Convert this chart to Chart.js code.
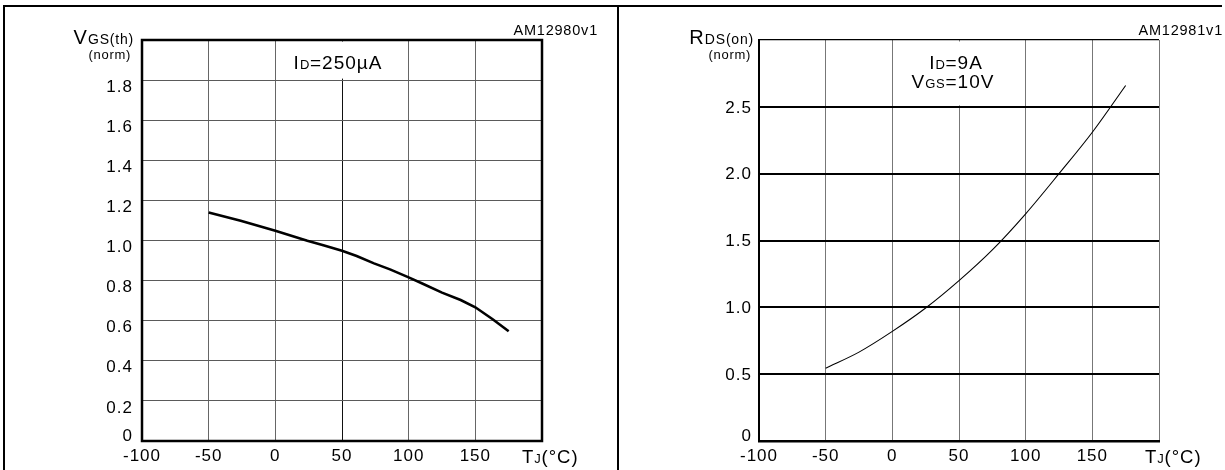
<!DOCTYPE html>
<html>
<head>
<meta charset="utf-8">
<script src="https://cdn.jsdelivr.net/npm/chart.js@4.4.1/dist/chart.umd.min.js"></script>
<style>
  html, body { margin: 0; padding: 0; background: #fff; }
  body { width: 1225px; height: 470px; position: relative; overflow: hidden; }
  .wrap { position: absolute; top: 0; height: 470px; }
  #vgsWrap { left: 0; width: 612px; }
  #rdsWrap { left: 612px; width: 613px; }
  .ln { position: absolute; background: #000; }
</style>
</head>
<body>
<div class="wrap" id="vgsWrap"><canvas id="vgsChart"></canvas></div>
<div class="wrap" id="rdsWrap"><canvas id="rdsChart"></canvas></div>
<div class="ln" style="left:3px;top:5px;width:1219px;height:2px"></div>
<div class="ln" style="left:3px;top:5px;width:2px;height:465px"></div>
<div class="ln" style="left:617px;top:5px;width:2px;height:465px"></div>
<script>
// x axis: junction temperature (°C)
const tempTicks = [-100, -50, 0, 50, 100, 150];

// left: normalized gate threshold voltage vs temperature
const vgsTemp = [-50, -26, 0, 24, 36, 50, 61, 74, 86, 100, 111, 125, 139, 150, 163, 175];
const vgsNorm = [1.14, 1.099, 1.049, 0.999, 0.976, 0.949, 0.923, 0.886, 0.856, 0.816, 0.783, 0.74, 0.703, 0.667, 0.607, 0.547];
const vgsTicks = [0, 0.2, 0.4, 0.6, 0.8, 1.0, 1.2, 1.4, 1.6, 1.8];

// right: normalized on-resistance vs temperature
const rdsTemp = [-50, -25, 0, 25, 50, 75, 100, 125, 150, 175];
const rdsNorm = [0.545, 0.665, 0.82, 0.995, 1.2, 1.43, 1.70, 2.0, 2.31, 2.66];
const rdsTicks = [0, 0.5, 1.0, 1.5, 2.0, 2.5];

const FONT = '"Liberation Sans", Arial, Helvetica, sans-serif';
const TICK_SIZE = 17;

function hasTick(list, v) {
  return list.some(t => Math.abs(t - v) < 1e-6);
}
function fmtY(v) {
  return v === 0 ? '0' : v.toFixed(1);
}

// text with mixed font sizes on one baseline (used for subscripts)
function richText(ctx, parts, x, y, align) {
  ctx.save();
  ctx.fillStyle = '#000';
  ctx.textBaseline = 'alphabetic';
  ctx.textAlign = 'left';
  const setFont = s => { ctx.font = s + 'px ' + FONT; ctx.letterSpacing = (s * 0.055).toFixed(1) + 'px'; };
  let total = 0;
  const widths = parts.map(([t, s]) => { setFont(s); const w = ctx.measureText(t).width; total += w; return w; });
  let cx = align === 'right' ? x - total : align === 'center' ? x - total / 2 : x;
  parts.forEach(([t, s], i) => { setFont(s); ctx.fillText(t, cx, y); cx += widths[i]; });
  ctx.restore();
}

function decor(o) {
  return {
    id: 'decor',
    beforeDraw(chart) {
      chart.ctx.letterSpacing = '1px';
    },
    afterDraw(chart) {
      const { ctx, chartArea: a, scales } = chart;
      ctx.save();
      // no grid line through the annotation cell
      const gx = scales.x.getPixelForValue(50);
      const gy = scales.y.getPixelForValue(o.gapTo);
      ctx.fillStyle = '#fff';
      ctx.fillRect(gx - 2, a.top + 1.5, 4, gy - a.top - 3);
      if (o.frame) {
        ctx.strokeStyle = '#000';
        ctx.lineWidth = 2.5;
        ctx.strokeRect(a.left, a.top, a.right - a.left, a.bottom - a.top);
      }
      // zero label, raised above the axis
      ctx.fillStyle = '#000';
      ctx.font = TICK_SIZE + 'px ' + FONT;
      ctx.textAlign = 'right';
      ctx.textBaseline = 'middle';
      ctx.fillText('0', a.left - o.yPad, a.bottom - 5);
      ctx.restore();
      richText(ctx, o.title, a.left - o.titleGap, 44, 'right');
      richText(ctx, [['(norm)', 13]], a.left - o.titleGap - 3, 59, 'right');
      o.notes.forEach(n => richText(ctx, n.parts, n.x, n.y, 'center'));
      richText(ctx, [['T', 18.5], ['J', 13], ['(°C)', 18.5]], o.unitX, 463, 'left');
      richText(ctx, [[o.code, 14.5]], o.codeX, 35, 'right');
    }
  };
}

function xAxis(gridColor) {
  return {
    type: 'linear', min: -100, max: 200,
    afterBuildTicks: s => { s.ticks = [-100, -50, 0, 50, 100, 150, 200].map(v => ({ value: v })); },
    afterFit: s => { s.height = 29; },
    grid: { color: gridColor, lineWidth: 1, drawTicks: false },
    border: { display: false },
    ticks: {
      padding: 5, color: '#000', font: { family: FONT, size: TICK_SIZE }, maxRotation: 0, autoSkip: false,
      callback: v => hasTick(tempTicks, v) ? String(v) : ''
    }
  };
}

new Chart(document.getElementById('vgsChart'), {
  type: 'line',
  data: {
    datasets: [{
      data: vgsTemp.map((t, i) => ({ x: t, y: vgsNorm[i] })),
      borderColor: '#000', borderWidth: 2.6, pointRadius: 0, tension: 0, fill: false
    }]
  },
  options: {
    responsive: true, maintainAspectRatio: false, animation: false,
    layout: { padding: { top: 40, right: 70, left: 0, bottom: 0 } },
    plugins: { legend: { display: false }, tooltip: { enabled: false } },
    scales: {
      x: xAxis(ctx => ctx.tick && ctx.tick.value === 50 ? '#111' : '#666'),
      y: {
        type: 'linear', min: 0, max: 2,
        afterBuildTicks: s => { s.ticks = [0, 0.2, 0.4, 0.6, 0.8, 1.0, 1.2, 1.4, 1.6, 1.8, 2.0].map(v => ({ value: v })); },
        afterFit: s => { s.width = 142; },
        grid: { color: '#5a5a5a', lineWidth: 1, drawTicks: false },
        border: { display: false },
        ticks: {
          padding: 9, labelOffset: 7, color: '#000', font: { family: FONT, size: TICK_SIZE },
          callback: v => (v !== 0 && hasTick(vgsTicks, v)) ? fmtY(v) : ''
        }
      }
    }
  },
  plugins: [decor({
    gapTo: 1.8, frame: true, yPad: 9, titleGap: 8,
    title: [['V', 20], ['GS(th)', 14]],
    notes: [{ parts: [['I', 19], ['D', 13], ['=250µA', 19]], x: 338, y: 69 }],
    unitX: 522, code: 'AM12980v1', codeX: 598
  })]
});

new Chart(document.getElementById('rdsChart'), {
  type: 'line',
  data: {
    datasets: [{
      data: rdsTemp.map((t, i) => ({ x: t, y: rdsNorm[i] })),
      borderColor: '#000', borderWidth: 1.1, pointRadius: 0,
      tension: 0.4, cubicInterpolationMode: 'monotone', fill: false
    }]
  },
  options: {
    responsive: true, maintainAspectRatio: false, animation: false,
    layout: { padding: { top: 40, right: 66, left: 0, bottom: 0 } },
    plugins: { legend: { display: false }, tooltip: { enabled: false } },
    scales: {
      x: Object.assign(xAxis('#777'), {
        border: { display: true, color: '#000', width: 2.5 }
      }),
      y: {
        type: 'linear', min: 0, max: 3,
        afterBuildTicks: s => { s.ticks = [0, 0.5, 1.0, 1.5, 2.0, 2.5, 3.0].map(v => ({ value: v })); },
        afterFit: s => { s.width = 147; },
        grid: {
          color: '#000', drawTicks: false,
          lineWidth: ctx => ctx.tick && ctx.tick.value === 3 ? 1.2 : 2
        },
        border: { display: true, color: '#000', width: 2 },
        ticks: {
          padding: 7, labelOffset: 1, color: '#000', font: { family: FONT, size: TICK_SIZE },
          callback: v => (v !== 0 && hasTick(rdsTicks, v)) ? fmtY(v) : ''
        }
      }
    }
  },
  plugins: [decor({
    gapTo: 2.5, frame: false, yPad: 7, titleGap: 5,
    title: [['R', 20], ['DS(on)', 14]],
    notes: [
      { parts: [['I', 19], ['D', 13], ['=9A', 19]], x: 344, y: 69 },
      { parts: [['V', 19], ['GS', 13], ['=10V', 19]], x: 341, y: 88 }
    ],
    unitX: 533, code: 'AM12981v1', codeX: 611
  })]
});
</script>
</body>
</html>
